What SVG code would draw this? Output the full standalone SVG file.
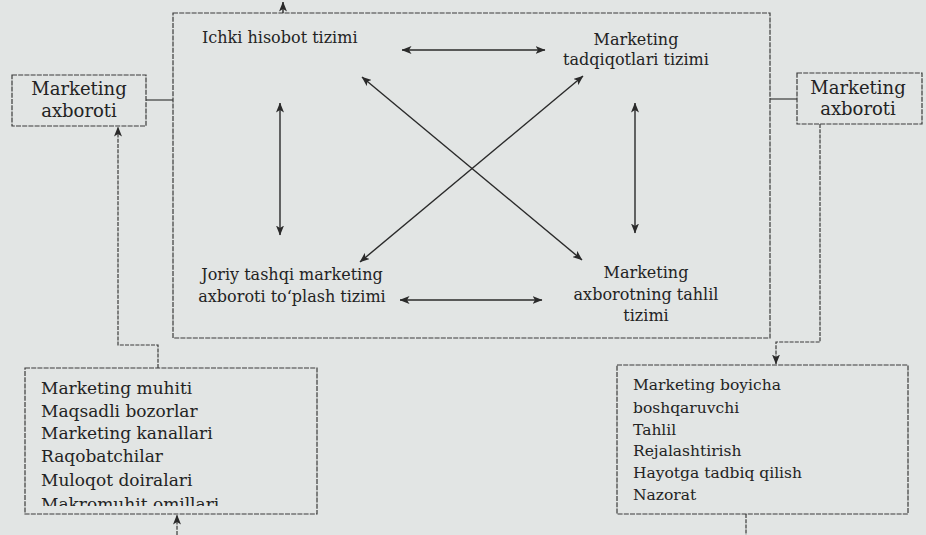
<svg xmlns="http://www.w3.org/2000/svg" width="926" height="535" viewBox="0 0 926 535">
<style>
  .bg{fill:#e2e5e4}
  .box{fill:none;stroke:#3a3a3a;stroke-width:1.2;stroke-dasharray:5 1.2}
  .t{font-family:"DejaVu Serif","Liberation Serif",serif;font-size:16px;fill:#232323}
  .s{font-size:18px}
  .l{font-size:17px}
  .r{font-size:15.5px}
  .c{text-anchor:middle}
  .arr{fill:none;stroke:#2a2a2a;stroke-width:1.4}
  .dash{fill:none;stroke:#3a3a3a;stroke-width:1.2;stroke-dasharray:4 1.2}
  .ln{fill:none;stroke:#3a3a3a;stroke-width:1.2}
</style>
<defs>
  <marker id="ah" viewBox="0 0 10 8" refX="9.5" refY="4" markerWidth="10" markerHeight="8" markerUnits="userSpaceOnUse" orient="auto-start-reverse">
    <path d="M0,0 L10,4 L0,8 L2.5,4 z" fill="#2a2a2a"/>
  </marker>
  <clipPath id="cutlast"><rect x="25" y="490" width="292" height="16"/></clipPath>
</defs>
<rect class="bg" x="0" y="0" width="926" height="535"/>

<g id="main-system">
  <rect class="box" x="173" y="13" width="597" height="325"/>
</g>
<g id="ichki-hisobot">
  <text class="t" x="202" y="43">Ichki hisobot tizimi</text>
</g>
<g id="marketing-tadqiqotlari">
  <text class="t c" x="636" y="45">Marketing</text>
  <text class="t c" x="636" y="65">tadqiqotlari tizimi</text>
</g>
<g id="joriy-tashqi">
  <text class="t c" x="292" y="280">Joriy tashqi marketing</text>
  <text class="t c" x="292" y="302">axboroti to‘plash tizimi</text>
</g>
<g id="tahlil-tizimi">
  <text class="t c" x="646" y="278">Marketing</text>
  <text class="t c" x="646" y="300">axborotning tahlil</text>
  <text class="t c" x="646" y="321">tizimi</text>
</g>
<g id="axboroti-left">
  <rect class="box" x="12" y="75" width="134" height="51"/>
  <text class="t s c" x="79" y="95">Marketing</text>
  <text class="t s c" x="79" y="117">axboroti</text>
</g>
<g id="axboroti-right">
  <rect class="box" x="797" y="73" width="125" height="51"/>
  <text class="t s c" x="858" y="94">Marketing</text>
  <text class="t s c" x="858" y="115">axboroti</text>
</g>
<g id="muhit">
  <rect class="box" x="25" y="368" width="292" height="146"/>
  <text class="t l" x="41" y="394">Marketing muhiti</text>
  <text class="t l" x="41" y="417">Maqsadli bozorlar</text>
  <text class="t l" x="41" y="439">Marketing kanallari</text>
  <text class="t l" x="41" y="462">Raqobatchilar</text>
  <text class="t l" x="41" y="486">Muloqot doiralari</text>
  <text class="t l" x="41" y="510" clip-path="url(#cutlast)">Makromuhit omillari</text>
</g>
<g id="boshqaruvchi">
  <rect class="box" x="617" y="365" width="291" height="149"/>
  <text class="t r" x="633" y="390">Marketing boyicha</text>
  <text class="t r" x="633" y="413">boshqaruvchi</text>
  <text class="t r" x="633" y="435">Tahlil</text>
  <text class="t r" x="633" y="456">Rejalashtirish</text>
  <text class="t r" x="633" y="478">Hayotga tadbiq qilish</text>
  <text class="t r" x="633" y="500">Nazorat</text>
</g>

<g id="connectors">
  <path class="arr" d="M402,50 L545,50" marker-start="url(#ah)" marker-end="url(#ah)"/>
  <path class="arr" d="M400,300 L542,300" marker-start="url(#ah)" marker-end="url(#ah)"/>
  <path class="arr" d="M280,103 L280,235" marker-start="url(#ah)" marker-end="url(#ah)"/>
  <path class="arr" d="M635,103 L635,233" marker-start="url(#ah)" marker-end="url(#ah)"/>
  <path class="arr" d="M362,77 L582,260" marker-start="url(#ah)" marker-end="url(#ah)"/>
  <path class="arr" d="M583,76 L360,262" marker-start="url(#ah)" marker-end="url(#ah)"/>
  <path class="arr" d="M283,13 L283,2" marker-end="url(#ah)"/>
  <path class="ln" d="M146,100 L173,100"/>
  <path class="ln" d="M770,99 L797,99"/>
  <path class="dash" d="M158,368 L158,345 L118,345 L118,127" marker-end="url(#ah)"/>
  <path class="dash" d="M820,124 L820,342 L776,342 L776,364" marker-end="url(#ah)"/>
  <path class="dash" d="M177,535 L177,515" marker-end="url(#ah)"/>
  <path class="dash" d="M746,514 L746,535"/>
</g>
</svg>
